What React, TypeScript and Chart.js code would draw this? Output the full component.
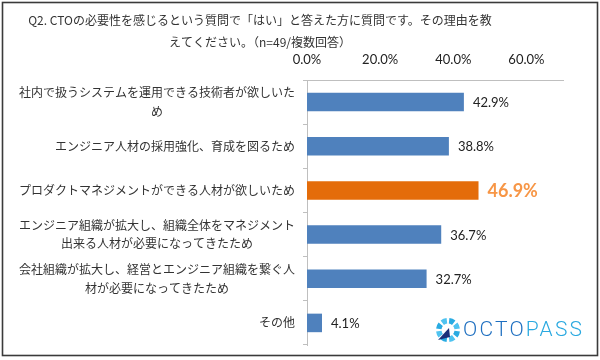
import { useEffect, useRef } from "react";
import { Chart, registerables } from "chart.js";

Chart.register(...registerables);

// ---- data ----
const TITLE_LINES = [
  "Q2. CTOの必要性を感じるという質問で「はい」と答えた方に質問です。その理由を教",
  "えてください。（n=49/複数回答）",
];
const CATEGORIES: string[][] = [
  ["社内で扱うシステムを運用できる技術者が欲しいた", "め"],
  ["エンジニア人材の採用強化、育成を図るため"],
  ["プロダクトマネジメントができる人材が欲しいため"],
  ["エンジニア組織が拡大し、組織全体をマネジメント", "出来る人材が必要になってきたため"],
  ["会社組織が拡大し、経営とエンジニア組織を繋ぐ人", "材が必要になってきたため"],
  ["その他"],
];
const VALUES = [42.9, 38.8, 46.9, 36.7, 32.7, 4.1];
const HIGHLIGHT_INDEX = 2;
const X_TICKS = [0, 20, 40, 60];
const X_MAX = 70;
const LOGO_PARTS = ["OCTO", "PASS"];

// ---- styles ----
const BLUE = "#4F81BD";
const ORANGE = "#E46C0A";
const ORANGE_LABEL = "#F79646";
const AXIS_COLOR = "#BFBFBF";
const TEXT_COLOR = "#333333";
const JP_FONT = '"Noto Sans CJK JP", sans-serif';
const NUM_FONT = 'Lato, "Liberation Sans", sans-serif';
const TITLE_CENTER_X = 260;

const framePlugin = {
  id: "frame",
  beforeDraw(chart: any) {
    const ctx = chart.ctx;
    ctx.save();
    ctx.fillStyle = "#ffffff";
    ctx.fillRect(0, 0, chart.width, chart.height);
    ctx.restore();
  },
  afterDraw(chart: any) {
    const ctx = chart.ctx;
    ctx.save();
    ctx.strokeStyle = "#3a3a3a";
    ctx.lineWidth = 1.6;
    ctx.strokeRect(2.5, 2.5, chart.width - 5, chart.height - 7);
    ctx.restore();
  },
};

const titlePlugin = {
  id: "customTitle",
  afterDraw(chart: any) {
    const ctx = chart.ctx;
    ctx.save();
    ctx.font = `12px ${JP_FONT}`;
    ctx.fillStyle = TEXT_COLOR;
    ctx.textAlign = "center";
    ctx.textBaseline = "middle";
    TITLE_LINES.forEach((line, i) => {
      ctx.fillText(line, TITLE_CENTER_X, 20 + i * 22);
    });
    ctx.restore();
  },
};

const yLabelPlugin = {
  id: "yLabels",
  afterDraw(chart: any) {
    const ctx = chart.ctx;
    const yScale = chart.scales.y;
    ctx.save();
    ctx.font = `12px ${JP_FONT}`;
    ctx.fillStyle = TEXT_COLOR;
    ctx.textAlign = "center";
    ctx.textBaseline = "middle";
    const lineH = 18.5;
    const right = yScale.right - 12;
    CATEGORIES.forEach((lines, i) => {
      const cy = yScale.getPixelForValue(i);
      const w = Math.max(...lines.map((l) => ctx.measureText(l).width));
      const cx = right - w / 2;
      const startY = cy - ((lines.length - 1) * lineH) / 2;
      lines.forEach((l, j) => ctx.fillText(l, cx, startY + j * lineH));
    });
    ctx.restore();
  },
};

const valueLabelPlugin = {
  id: "valueLabels",
  afterDatasetsDraw(chart: any) {
    const ctx = chart.ctx;
    const meta = chart.getDatasetMeta(0);
    ctx.save();
    ctx.textAlign = "left";
    ctx.textBaseline = "middle";
    meta.data.forEach((bar: any, i: number) => {
      const hi = i === HIGHLIGHT_INDEX;
      ctx.font = hi ? `bold 18px ${NUM_FONT}` : `13px ${NUM_FONT}`;
      ctx.fillStyle = hi ? ORANGE_LABEL : "#222222";
      ctx.fillText(VALUES[i].toFixed(1) + "%", bar.x + 9, bar.y + 1);
    });
    ctx.restore();
  },
};

const logoPlugin = {
  id: "logo",
  afterDraw(chart: any) {
    const ctx = chart.ctx;
    const area = chart.chartArea;
    const cx = area.left + 141;
    const cy = area.bottom - 15;
    ctx.save();
    const segs = 8;
    for (let k = 0; k < segs; k++) {
      const a0 = (k / segs) * Math.PI * 2 + 0.12;
      const a1 = ((k + 1) / segs) * Math.PI * 2 - 0.12;
      ctx.beginPath();
      ctx.arc(cx, cy, 12, a0, a1);
      ctx.arc(cx, cy, 6.5, a1, a0, true);
      ctx.closePath();
      ctx.fillStyle = k % 2 === 0 ? "#29ABE2" : "#4FC3F0";
      ctx.fill();
    }
    ctx.beginPath();
    ctx.moveTo(cx + 1, cy - 2);
    ctx.lineTo(cx - 10, cy + 10);
    ctx.lineTo(cx + 2, cy + 7);
    ctx.closePath();
    ctx.fillStyle = "#1B2F7A";
    ctx.fill();
    ctx.font = `300 21px Roboto, "DejaVu Sans", sans-serif`;
    (ctx as any).letterSpacing = "2.2px";
    ctx.textBaseline = "middle";
    ctx.textAlign = "left";
    let x = cx + 15;
    ctx.fillStyle = "#1E6FC0";
    ctx.fillText(LOGO_PARTS[0], x, cy + 1);
    x += ctx.measureText(LOGO_PARTS[0]).width;
    ctx.fillStyle = "#2AA9E0";
    ctx.fillText(LOGO_PARTS[1], x, cy + 1);
    ctx.restore();
  },
};

export default function App() {
  const canvasRef = useRef<HTMLCanvasElement | null>(null);

  useEffect(() => {
    document.body.style.margin = "0";
    const canvas = canvasRef.current;
    if (!canvas) return;
    const chart = new Chart(canvas, {
      type: "bar",
      data: {
        labels: CATEGORIES as any,
        datasets: [
          {
            data: VALUES,
            backgroundColor: VALUES.map((_, i) => (i === HIGHLIGHT_INDEX ? ORANGE : BLUE)),
            borderWidth: 0,
            categoryPercentage: 1,
            barPercentage: 0.42,
          },
        ],
      },
      options: {
        indexAxis: "y",
        responsive: false,
        animation: false,
        layout: { padding: { top: 52, right: 37, bottom: 15, left: 0 } },
        plugins: {
          legend: { display: false },
          tooltip: { enabled: false },
          title: { display: false },
        },
        scales: {
          x: {
            position: "top",
            min: 0,
            max: X_MAX,
            grid: { display: false, drawTicks: false },
            border: { display: true, color: AXIS_COLOR, width: 1 },
            ticks: {
              stepSize: 20,
              includeBounds: false,
              padding: 12,
              color: "#222222",
              font: { family: NUM_FONT, size: 13 },
              callback: (v: any) => (X_TICKS.includes(Number(v)) ? Number(v).toFixed(1) + "%" : ""),
            },
            afterFit: (scale: any) => {
              scale.height = 28;
            },
          },
          y: {
            type: "category",
            grid: {
              display: true,
              offset: true,
              drawOnChartArea: false,
              drawTicks: true,
              tickLength: 4,
              color: AXIS_COLOR,
            },
            border: { display: true, color: AXIS_COLOR, width: 1 },
            ticks: { display: false },
            afterFit: (scale: any) => {
              scale.width = 307;
            },
          },
        },
      },
      plugins: [framePlugin, titlePlugin, yLabelPlugin, valueLabelPlugin, logoPlugin],
    } as any);
    return () => chart.destroy();
  }, []);

  return (
    <div style={{ width: 600, height: 360 }}>
      <canvas ref={canvasRef} width={600} height={360} style={{ display: "block" }} />
    </div>
  );
}
